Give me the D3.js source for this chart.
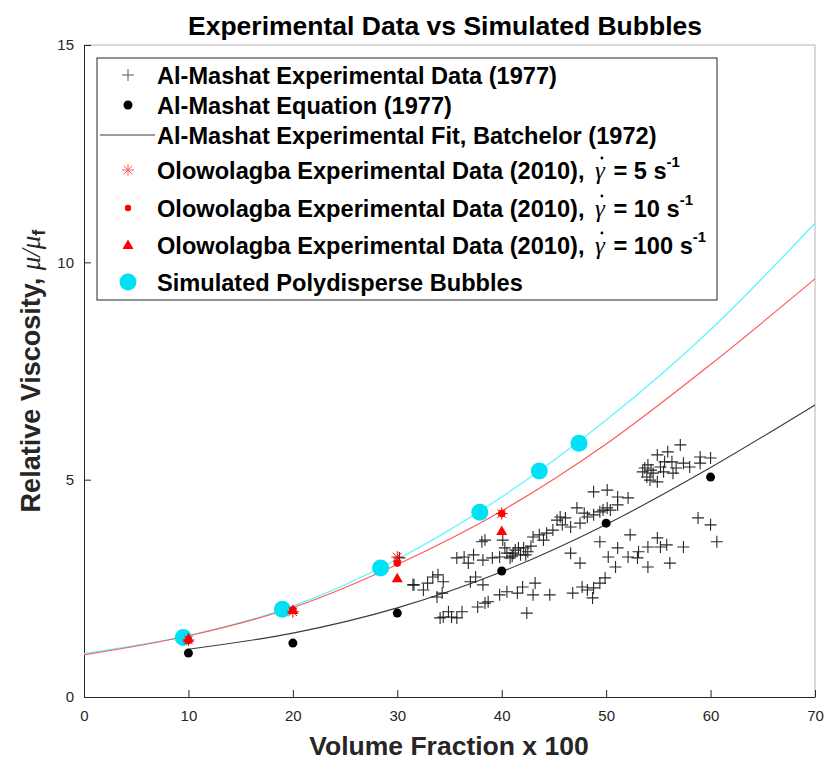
<!DOCTYPE html>
<html>
<head>
<meta charset="utf-8">
<script src="https://cdn.jsdelivr.net/npm/d3@7"></script>
<style>
  body { margin: 0; background: #fff; }
  text { font-family: "Liberation Sans", Arial, sans-serif; }
</style>
</head>
<body>
<svg width="824" height="760"></svg>
<script>
// --- data ---
var xTicks = [0, 10, 20, 30, 40, 50, 60, 70];
var yTicks = [0, 5, 10, 15];

// Al-Mashat experimental data (1977), [volume fraction x100, relative viscosity]
var mashatData = [
  [38.4,3.61],[38.1,3.57],[35.7,3.20],[36.8,3.08],[37.3,3.27],[38.2,3.15],[39.1,3.20],[39.8,3.22],
  [40.1,3.61],[40.5,3.31],[41.0,3.24],[41.3,3.38],[41.8,3.27],[42.1,3.43],[42.5,3.34],[42.8,3.47],
  [41.6,3.43],[40.8,3.20],[43.0,3.68],[44.0,3.61],[44.3,3.77],[44.9,3.84],[45.3,4.07],[45.6,4.14],
  [46.6,3.91],[47.2,4.35],[47.5,4.00],[48.2,4.14],[48.8,4.19],[49.4,4.26],[49.7,4.30],[50.1,4.35],
  [50.4,4.30],[51.1,4.42],[51.1,4.60],[52.1,4.58],[48.8,4.72],[50.1,4.76],[46.6,3.31],[47.5,3.08],
  [31.5,2.58],[32.5,2.46],[32.9,2.62],[33.4,2.76],[33.9,2.81],[34.4,2.65],[34.3,2.39],[33.8,2.30],
  [37.0,2.65],[37.5,2.76],[38.2,2.58],[34.4,1.84],[34.9,1.96],[35.2,1.84],[35.7,1.82],[36.2,1.96],
  [34.1,1.82],[37.7,2.07],[38.4,2.16],[38.7,2.19],[39.8,2.35],[40.5,2.42],[41.5,2.39],[42.0,2.53],
  [43.0,2.35],[43.2,2.62],[42.4,1.93],[44.6,2.35],[46.8,2.39],[47.7,2.53],[48.2,2.46],[48.8,2.51],
  [49.4,2.62],[49.9,2.74],[48.7,2.28],[49.4,3.57],[51.1,3.43],[50.2,3.22],[52.3,3.73],[52.1,3.22],
  [53.0,3.20],[53.1,3.34],[54.0,3.45],[54.9,3.66],[55.2,3.45],[55.8,3.50],[57.4,3.45],[54.0,2.99],
  [56.1,3.08],[58.8,4.12],[60.0,3.96],[60.6,3.57],[50.9,2.99],
  [53.5,5.18],[54.0,5.34],[54.5,5.15],[54.9,5.57],[55.5,5.18],[55.9,5.64],[56.3,5.41],[57.1,5.80],
  [57.4,5.38],[58.0,5.29],[59.0,5.38],[59.0,5.52],[60.0,5.50],[54.2,4.99],[54.9,4.95],[56.4,5.15],
  [55.2,5.29],[53.9,5.06],[53.7,5.27],[55.6,5.41],[56.7,5.27],[54.3,5.22],
  [30.2,3.20],[31.6,2.58],[41.1,3.31],[42.3,3.27],[40.3,3.43],[36.4,3.22],[45.8,3.96],[46.1,4.12],
  [43.6,3.73],[47.9,4.23]
];

// Al-Mashat equation (1977)
var eqX = [10, 20, 30, 40, 50, 60];
var eqY = [1.01, 1.24, 1.93, 2.90, 4.00, 5.06];

// Al-Mashat experimental fit, Batchelor (1972)
var fitBX = [10, 20, 30, 40, 50, 60, 70];
var fitBY = [1.10, 1.47, 2.05, 2.88, 3.97, 5.28, 6.72];

// fit curves through the Olowolagba data and the simulated bubbles
var fitX = [0, 10, 20, 30, 40, 50, 60, 70];
var redFitY = [0.97, 1.41, 2.06, 3.05, 4.28, 5.82, 7.65, 9.62];
var cyanFitY = [1.00, 1.41, 2.09, 3.17, 4.60, 6.37, 8.45, 10.90];

// Olowolagba experimental data (2010)
var olowX = [10, 20, 30, 40];
var olow5 = [1.31, 1.96, 3.22, 4.22];
var olow10 = [1.30, 2.00, 3.08, 4.22];
var olow100 = [1.35, 2.00, 2.73, 3.82];

// simulated polydisperse bubbles
var simX = [9.5, 19.0, 28.4, 37.9, 43.6, 47.4];
var simY = [1.37, 2.02, 2.97, 4.25, 5.20, 5.84];

var legendLabels = [
  "Al-Mashat Experimental Data (1977)",
  "Al-Mashat Equation (1977)",
  "Al-Mashat Experimental Fit, Batchelor (1972)",
  "Olowolagba Experimental Data (2010), ",
  "Olowolagba Experimental Data (2010), ",
  "Olowolagba Experimental Data (2010), ",
  "Simulated Polydisperse Bubbles"
];
var legendRates = [null, null, null, "5", "10", "100", null];

// --- chart ---
var svg = d3.select("svg"),
    margin = {top: 45, right: 9, bottom: 63, left: 84},
    width = 824 - margin.left - margin.right,
    height = 760 - margin.top - margin.bottom,
    g = svg.append("g").attr("transform", "translate(" + margin.left + "," + margin.top + ")");

var x = d3.scaleLinear().domain([0, 70]).range([0, width]);
var y = d3.scaleLinear().domain([0, 15]).range([height, 0]);

var cyanCol = "#00e1f5", redCol = "#ff0000";

// box lines (top/right)
g.append("path")
  .attr("d", "M0,0H" + width + "V" + height)
  .attr("fill", "none").attr("stroke", "#b5b5b5").attr("stroke-width", 1);

var xAxis = d3.axisBottom(x).tickValues(xTicks).tickSizeInner(-7).tickSizeOuter(0).tickPadding(13);
var yAxis = d3.axisLeft(y).tickValues(yTicks).tickSizeInner(-7).tickSizeOuter(0).tickPadding(10);

g.append("g").attr("transform", "translate(0," + height + ")").call(xAxis)
  .call(function(a) {
    a.select(".domain").attr("stroke", "#262626");
    a.selectAll(".tick line").attr("stroke", "#262626");
    a.selectAll("text").attr("font-size", 15).attr("fill", "#262626").attr("dy", "0.71em");
  });
g.append("g").call(yAxis)
  .call(function(a) {
    a.select(".domain").attr("stroke", "#262626");
    a.selectAll(".tick line").attr("stroke", "#262626");
    a.selectAll("text").attr("font-size", 15).attr("fill", "#262626");
  });

var line = d3.line()
  .x(function(d) { return x(d[0]); })
  .y(function(d) { return y(d[1]); })
  .curve(d3.curveMonotoneX);

g.append("path").datum(d3.zip(fitX, cyanFitY))
  .attr("fill", "none").attr("stroke", "#5ff5ff").attr("stroke-width", 1.3).attr("d", line);
g.append("path").datum(d3.zip(fitX, redFitY))
  .attr("fill", "none").attr("stroke", "#ff5a5a").attr("stroke-width", 1.2).attr("d", line);
g.append("path").datum(d3.zip(fitBX, fitBY))
  .attr("fill", "none").attr("stroke", "#3a3a3a").attr("stroke-width", 1.1).attr("d", line);

// crosses
g.append("g").selectAll("path").data(mashatData).enter().append("path")
  .attr("transform", function(d) { return "translate(" + x(d[0]) + "," + y(d[1]) + ")"; })
  .attr("d", "M-6,0H6M0,-6V6")
  .attr("stroke", "#111").attr("stroke-opacity", 0.9).attr("stroke-width", 1.1);

// equation dots
g.append("g").selectAll("circle").data(d3.zip(eqX, eqY)).enter().append("circle")
  .attr("cx", function(d) { return x(d[0]); })
  .attr("cy", function(d) { return y(d[1]); })
  .attr("r", 4.5).attr("fill", "#000");

// simulated bubbles
g.append("g").selectAll("circle").data(d3.zip(simX, simY)).enter().append("circle")
  .attr("cx", function(d) { return x(d[0]); })
  .attr("cy", function(d) { return y(d[1]); })
  .attr("r", 8.5).attr("fill", cyanCol);

var starPath = "M-6,0H6M0,-6V6M-4.3,-4.3L4.3,4.3M-4.3,4.3L4.3,-4.3";
var triPath = "M0,-5.5L5.5,4L-5.5,4Z";

g.append("g").selectAll("path").data(d3.zip(olowX, olow100)).enter().append("path")
  .attr("transform", function(d) { return "translate(" + x(d[0]) + "," + y(d[1]) + ")"; })
  .attr("d", triPath).attr("fill", redCol);
g.append("g").selectAll("path").data(d3.zip(olowX, olow5)).enter().append("path")
  .attr("transform", function(d) { return "translate(" + x(d[0]) + "," + y(d[1]) + ")"; })
  .attr("d", starPath).attr("stroke", redCol).attr("stroke-width", 1).attr("fill", "none");
g.append("g").selectAll("circle").data(d3.zip(olowX, olow10)).enter().append("circle")
  .attr("cx", function(d) { return x(d[0]); })
  .attr("cy", function(d) { return y(d[1]); })
  .attr("r", 3.8).attr("fill", redCol);

// legend
var leg = svg.append("g").attr("transform", "translate(97,58)");
leg.append("rect").attr("width", 620).attr("height", 242)
  .attr("fill", "#fff").attr("stroke", "#262626").attr("stroke-width", 1);

var rowY = [17, 47, 77, 112, 150, 187, 224];
var symX = 31;
var items = leg.selectAll("g.item").data(legendLabels).enter().append("g")
  .attr("transform", function(d, i) { return "translate(0," + rowY[i] + ")"; });

items.append("text")
  .attr("x", 60).attr("dy", "0.36em")
  .attr("font-size", 23.6).attr("font-weight", "bold").attr("fill", "#000")
  .each(function(d, i) {
    var t = d3.select(this);
    t.append("tspan").text(d);
    if (legendRates[i]) {
      t.append("tspan").attr("dx", 4)
        .attr("font-family", "'Liberation Serif', serif").attr("font-style", "italic")
        .attr("font-weight", "normal").attr("font-size", 25).text("\u03B3");
      t.append("tspan").attr("dx", 2).text(" = " + legendRates[i] + " s");
      t.append("tspan").attr("font-size", 15).attr("dy", "-0.75em").text("-1");
    }
  });

// dot over gamma (shear rate)
items.each(function(d, i) {
  if (!legendRates[i]) return;
  var t = d3.select(this).select("text").node();
  var n = d.length;
  var s = t.getStartPositionOfChar(n), e = t.getEndPositionOfChar(n);
  d3.select(this).append("circle")
    .attr("cx", (s.x + e.x) / 2 + 2).attr("cy", -12).attr("r", 1.4).attr("fill", "#000");
});

var sym = function(i) { return items.filter(function(d, j) { return j === i; }); };
sym(0).append("path").attr("transform", "translate(" + symX + ",0)")
  .attr("d", "M-6,0H6M0,-6V6").attr("stroke", "#555").attr("stroke-width", 1);
sym(1).append("circle").attr("cx", symX).attr("r", 4.5).attr("fill", "#000");
sym(2).append("line").attr("x1", 3).attr("x2", 58).attr("stroke", "#3a3a3a").attr("stroke-width", 1.1);
sym(3).append("path").attr("transform", "translate(" + symX + ",0)")
  .attr("d", starPath).attr("stroke", "#ff5a5a").attr("stroke-width", 1).attr("fill", "none");
sym(4).append("circle").attr("cx", symX).attr("r", 3.2).attr("fill", redCol);
sym(5).append("path").attr("transform", "translate(" + symX + ",0)")
  .attr("d", triPath).attr("fill", redCol);
sym(6).append("circle").attr("cx", symX).attr("r", 8.5).attr("fill", cyanCol);

// title and axis labels
svg.append("text").attr("x", 445).attr("y", 35).attr("text-anchor", "middle")
  .attr("font-size", 26.5).attr("font-weight", "bold").attr("fill", "#000")
  .text("Experimental Data vs Simulated Bubbles");

svg.append("text").attr("x", 449).attr("y", 755).attr("text-anchor", "middle")
  .attr("font-size", 26.5).attr("font-weight", "bold").attr("fill", "#262626")
  .text("Volume Fraction x 100");

var yl = svg.append("text").attr("transform", "translate(40,371) rotate(-90)")
  .attr("text-anchor", "middle")
  .attr("font-size", 27).attr("font-weight", "bold").attr("fill", "#262626");
yl.append("tspan").text("Relative Viscosity,  ");
yl.append("tspan").attr("font-family", "'Liberation Serif', serif").attr("font-style", "italic")
  .attr("font-weight", "normal").text("\u03BC/\u03BC");
yl.append("tspan").attr("font-size", 18).attr("dy", "0.3em").text("f");
</script>
</body>
</html>
